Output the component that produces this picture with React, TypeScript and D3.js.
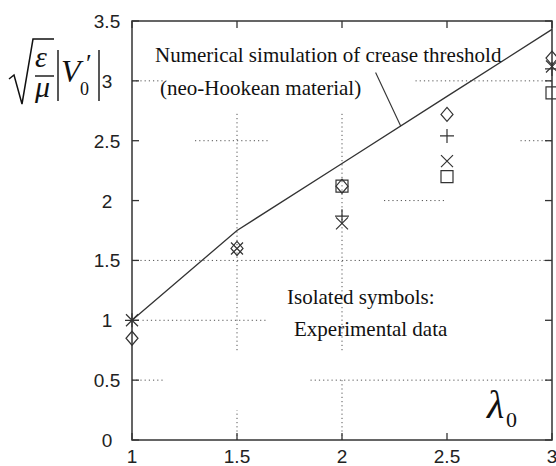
import React from 'react';
import * as d3 from 'd3';

// lambda_0 positions of the measurements
const lambdas = [1, 1.5, 2, 2.5, 3];

// experimental data, one array per symbol (null = not plotted)
const diamondVals = [0.85, 1.6, 2.12, 2.72, 3.19];
const plusVals = [1.0, null, 1.87, 2.54, 3.1];
const crossVals = [1.0, 1.6, 1.81, 2.33, 3.12];
const squareVals = [null, null, 2.12, 2.2, 2.9];

// numerical simulation of crease threshold
const simLambda = [1, 1.5, 2, 2.5, 3];
const simVals = [1.0, 1.75, 2.31, 2.87, 3.43];

const xTicks = [1, 1.5, 2, 2.5, 3];
const xTickLabels = ['1', '1.5', '2', '2.5', '3'];
const yTicks = [0, 0.5, 1, 1.5, 2, 2.5, 3, 3.5];
const yTickLabels = ['0', '0.5', '1', '1.5', '2', '2.5', '3', '3.5'];

// visible pieces of the dotted grid (the rest is hidden behind text boxes)
const hGrid: [number, number, number][] = [
  [3, 1, 1.15], [3, 2.35, 3],
  [2.5, 1.3, 1.65], [2.5, 2.85, 3],
  [2, 2.2, 2.5],
  [1.5, 1, 3],
  [1, 1.05, 1.65],
  [0.5, 1, 1.15], [0.5, 1.85, 3],
];
const vGrid: [number, number, number][] = [
  [1.5, 0.75, 2.74], [1.5, 0, 0.25],
  [2, 0.75, 2.74], [2, 0, 0.5],
];

// leader line from the annotation to the curve
const leader = [[2.16, 3.07], [2.28, 2.62]];

const W = 556, H = 466;
const ink = '#333';

function App() {
  const x = d3.scaleLinear().domain([1, 3]).range([132, 552]);
  const y = d3.scaleLinear().domain([0, 3.5]).range([440, 21]);

  const line = d3.line<number>()
    .x((d, i) => x(simLambda[i]))
    .y(d => y(d));

  const diamond = (cx: number, cy: number) => `M${cx},${cy - 7}L${cx + 6},${cy}L${cx},${cy + 7}L${cx - 6},${cy}Z`;
  const square = (cx: number, cy: number) => `M${cx - 6},${cy - 6}h12v12h-12Z`;
  const plus = (cx: number, cy: number) => `M${cx - 7},${cy}h14M${cx},${cy - 7}v14`;
  const cross = (cx: number, cy: number) => `M${cx - 6},${cy - 6}l12,12M${cx - 6},${cy + 6}l12,-12`;

  const series: [(number | null)[], (cx: number, cy: number) => string][] = [
    [squareVals, square], [diamondVals, diamond], [plusVals, plus], [crossVals, cross],
  ];

  const serif = '"Liberation Serif", "Times New Roman", serif';
  const sans = '"Liberation Sans", Arial, sans-serif';

  return (
    <svg width={W} height={H} style={{ position: 'absolute', left: 0, top: 0, background: '#fff' }}>
      {/* grid */}
      <g stroke="#555" strokeWidth={1} strokeDasharray="1.2,3">
        {hGrid.map(([v, a, b], i) => (
          <line key={'h' + i} x1={x(a)} x2={x(b)} y1={y(v)} y2={y(v)} />
        ))}
        {vGrid.map(([v, a, b], i) => (
          <line key={'v' + i} x1={x(v)} x2={x(v)} y1={y(a)} y2={y(b)} />
        ))}
      </g>

      {/* simulation curve */}
      <path d={line(simVals) || ''} fill="none" stroke={ink} strokeWidth={1.3} />
      <line x1={x(leader[0][0])} y1={y(leader[0][1])} x2={x(leader[1][0])} y2={y(leader[1][1])} stroke={ink} strokeWidth={1.1} />

      {/* experimental symbols */}
      <g fill="none" stroke={ink} strokeWidth={1.2}>
        {series.map(([vals, sym], si) =>
          vals.map((v, i) => v == null ? null : (
            <path key={si + '-' + i} d={sym(x(lambdas[i]), y(v))} />
          ))
        )}
      </g>

      {/* axes box with inward ticks */}
      <rect x={x(1)} y={y(3.5)} width={x(3) - x(1)} height={y(0) - y(3.5)} fill="none" stroke={ink} strokeWidth={1.5} />
      <g stroke={ink} strokeWidth={1.3}>
        {xTicks.map(t => (
          <g key={'xt' + t}>
            <line x1={x(t)} x2={x(t)} y1={y(0)} y2={y(0) - 7} />
            <line x1={x(t)} x2={x(t)} y1={y(3.5)} y2={y(3.5) + 7} />
          </g>
        ))}
        {yTicks.map(t => (
          <g key={'yt' + t}>
            <line x1={x(1)} x2={x(1) + 7} y1={y(t)} y2={y(t)} />
            <line x1={x(3)} x2={x(3) - 7} y1={y(t)} y2={y(t)} />
          </g>
        ))}
      </g>
      <g fontFamily={sans} fontSize={19} fill="#222">
        {xTicks.map((t, i) => (
          <text key={'xl' + t} x={x(t)} y={463} textAnchor="middle">{xTickLabels[i]}</text>
        ))}
        {yTicks.map((t, i) => (
          <text key={'yl' + t} x={107} y={y(t) + 7} textAnchor="middle">{yTickLabels[i]}</text>
        ))}
      </g>

      {/* annotations */}
      <g fontFamily={serif} fontSize={21} fill="#111">
        <text x={155} y={62}>Numerical simulation of crease threshold</text>
        <text x={160} y={95}>(neo-Hookean material)</text>
        <text x={287} y={304}>Isolated symbols:</text>
        <text x={294} y={336}>Experimental data</text>
      </g>
      <g fontFamily={serif} fontStyle="italic" fill="#111">
        <text x={487} y={418} fontSize={40}>λ</text>
        <text x={506} y={427} fontSize={22} fontStyle="normal">0</text>
      </g>

      {/* y axis label: sqrt(eps/mu) |V0'| */}
      <g fontFamily={serif} fill="#111" stroke="none">
        <path d="M9,79 L14,75 L22,104 L33,39 L54,39" fill="none" stroke="#111" strokeWidth={1.5} />
        <text x={35} y={67} fontSize={30} fontStyle="italic">ε</text>
        <line x1={35} x2={54} y1={76} y2={76} stroke="#111" strokeWidth={1.4} />
        <text x={35} y={97} fontSize={30} fontStyle="italic">μ</text>
        <line x1={58} x2={58} y1={50} y2={101} stroke="#111" strokeWidth={1.4} />
        <text x={61} y={82} fontSize={32} fontStyle="italic">V</text>
        <text x={80} y={95} fontSize={18}>0</text>
        <text x={86} y={72} fontSize={26}>′</text>
        <line x1={99} x2={99} y1={50} y2={101} stroke="#111" strokeWidth={1.4} />
      </g>
    </svg>
  );
}

export default App;
